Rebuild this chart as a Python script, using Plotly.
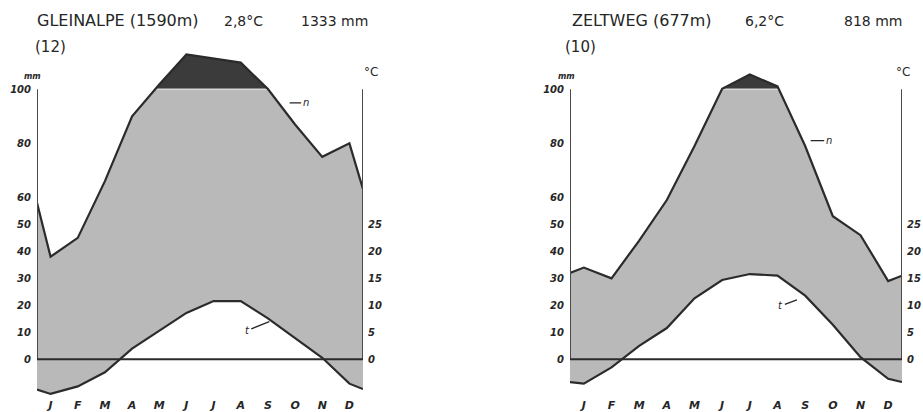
import plotly.graph_objects as go

# ---------------- data ----------------
months = ["J", "F", "M", "A", "M", "J", "J", "A", "S", "O", "N", "D"]

# Gleinalpe (1590 m), mean 2,8 °C, 1333 mm, (12) years
gl_precip = [38, 45, 66, 90, 118, 229, 214, 199, 101, 87, 75, 80]      # mm
gl_precip_edges = [58, 63]                                             # curve ends at frame
gl_temp = [-6.4, -5.0, -2.4, 2.0, 5.3, 8.6, 10.8, 10.8, 7.6, 4.0, 0.3, -4.5]  # °C
gl_temp_edges = [-5.6, -5.5]

# Zeltweg (677 m), mean 6,2 °C, 818 mm, (10) years
ze_precip = [34, 30, 44, 59, 79, 102, 155, 111, 79, 53, 46, 29]
ze_precip_edges = [32, 31]
ze_temp = [-4.5, -1.5, 2.5, 5.8, 11.3, 14.7, 15.8, 15.5, 11.8, 6.4, 0.4, -3.6]
ze_temp_edges = [-4.2, -4.2]

mm_ticks = [0, 10, 20, 30, 40, 50, 60, 80, 100]
c_ticks = [0, 5, 10, 15, 20, 25]

# ---------------- helpers ----------------
FW, FH = 923, 412
GRAY = "#b9b9b9"
DARK = "#3b3b3b"
LINE = "#2b2b2b"
TXT = "#262626"
FONT = "DejaVu Sans"
PXU = 2.72                   # pixels per mm unit
Y0PX = 362                   # pixel row of the 0 line
BOTPX = 400                  # bottom of plotting area
YMIN = -(BOTPX - Y0PX) / PXU
YMAX = Y0PX / PXU


def fx(x):
    return x / FW


def fy(y):
    return 1 - y / FH


def wl(p):
    """Walter-Lieth precipitation scale: above 100 mm reduced to 1/10."""
    return p if p <= 100 else 100 + (p - 100) / 10.0


def positions():
    return [0.0] + [i + 0.5 for i in range(12)] + [12.0]


def with_crossings(xs, ys, level=100.0):
    out = []
    for i in range(len(xs)):
        if i > 0:
            y0, y1 = ys[i - 1], ys[i]
            if (y0 - level) * (y1 - level) < 0:
                t = (level - y0) / (y1 - y0)
                out.append((xs[i - 1] + t * (xs[i] - xs[i - 1]), level))
        out.append((xs[i], ys[i]))
    return out


fig = go.Figure()


def add_diagram(precip, pedges, temp, tedges, xa, ya):
    xs = positions()
    p = [wl(v) for v in [pedges[0]] + precip + [pedges[1]]]
    t = [2 * v for v in [tedges[0]] + temp + [tedges[1]]]
    pts = with_crossings(xs, p)
    # humid (gray) area between temperature and precipitation (capped at 100)
    gx = [q[0] for q in pts] + xs[::-1]
    gy = [min(q[1], 100) for q in pts] + t[::-1]
    fig.add_trace(go.Scatter(x=gx, y=gy, fill="toself", fillcolor=GRAY,
                             line=dict(width=0), mode="lines", xaxis=xa, yaxis=ya,
                             showlegend=False, hoverinfo="skip"))
    # very humid part above 100 mm (dark)
    above = [q for q in pts if q[1] >= 100]
    fig.add_trace(go.Scatter(x=[q[0] for q in above], y=[q[1] for q in above],
                             fill="toself", fillcolor=DARK, line=dict(width=0),
                             mode="lines", xaxis=xa, yaxis=ya,
                             showlegend=False, hoverinfo="skip"))
    fig.add_trace(go.Scatter(x=[above[0][0], above[-1][0]], y=[100, 100], mode="lines",
                             line=dict(color="#d8d8d8", width=1.5), xaxis=xa, yaxis=ya,
                             showlegend=False, hoverinfo="skip"))
    # curves
    fig.add_trace(go.Scatter(x=xs, y=p, mode="lines", line=dict(color=LINE, width=2.2),
                             xaxis=xa, yaxis=ya, showlegend=False, hoverinfo="skip"))
    fig.add_trace(go.Scatter(x=xs, y=t, mode="lines", line=dict(color=LINE, width=2.2),
                             xaxis=xa, yaxis=ya, showlegend=False, hoverinfo="skip"))


add_diagram(gl_precip, gl_precip_edges, gl_temp, gl_temp_edges, "x", "y")
add_diagram(ze_precip, ze_precip_edges, ze_temp, ze_temp_edges, "x2", "y2")
fig.add_trace(go.Scatter(x=[None], y=[None], xaxis="x", yaxis="y3", showlegend=False))
fig.add_trace(go.Scatter(x=[None], y=[None], xaxis="x2", yaxis="y4", showlegend=False))

tickfont = dict(family=FONT, size=10, color=TXT, weight="bold", style="italic")
ydom = [(FH - BOTPX) / FH, 1]

xcommon = dict(range=[0, 12], tickvals=[i + 0.5 for i in range(12)], ticktext=months,
               showgrid=False, zeroline=False, showline=False, ticks="",
               tickfont=dict(family=FONT, size=11, color=TXT, style="italic",
                             weight="bold"),
               ticklabelstandoff=0, fixedrange=True)
ymm = dict(range=[YMIN, YMAX], domain=ydom, tickvals=mm_ticks, showgrid=False,
           zeroline=False, showline=False, ticks="", tickfont=tickfont,
           ticklabelstandoff=5, fixedrange=True)
yc = dict(range=[YMIN / 2, YMAX / 2], domain=ydom, tickvals=c_ticks, showgrid=False,
          zeroline=False, showline=False, ticks="", tickfont=tickfont, side="right",
          ticklabelstandoff=4, fixedrange=True)

fig.update_layout(
    width=FW, height=FH, margin=dict(l=0, r=0, t=0, b=0),
    paper_bgcolor="white", plot_bgcolor="rgba(0,0,0,0)",
    xaxis=dict(domain=[fx(37), fx(363)], anchor="y", **xcommon),
    xaxis2=dict(domain=[fx(570), fx(902)], anchor="y2", **xcommon),
    yaxis=dict(anchor="x", **ymm),
    yaxis2=dict(anchor="x2", **ymm),
    yaxis3=dict(anchor="x", overlaying="y", **yc),
    yaxis4=dict(anchor="x2", overlaying="y2", **yc),
)

shapes = []
for xr, yr in [("x", "y"), ("x2", "y2")]:
    for xv in (0, 12):
        shapes.append(dict(type="line", xref=xr, yref=yr, x0=xv, x1=xv, y0=0, y1=100,
                           line=dict(color="#4a4a4a", width=2), layer="above"))
    shapes.append(dict(type="line", xref=xr, yref=yr, x0=0, x1=12, y0=0, y1=0,
                       line=dict(color=LINE, width=2), layer="above"))
fig.update_layout(shapes=shapes)


def ann(text, x, y, size=14, xanchor="left", **kw):
    fig.add_annotation(text=text, x=fx(x), y=fy(y), xref="paper", yref="paper",
                       xanchor=xanchor, yanchor="middle", showarrow=False,
                       font=dict(family=FONT, size=size, color=TXT, **kw))


# titles
ann("GLEINALPE (1590m)", 35, 21, size=16)
ann("2,8°C", 222, 21)
ann("1333 mm", 299, 21)
ann("(12)", 33, 47, size=15)
ann("ZELTWEG (677m)", 570, 21, size=16)
ann("6,2°C", 743, 21)
ann("818 mm", 842, 21)
ann("(10)", 563, 47, size=15)
# unit labels
for x in (22, 556):
    ann("mm", x, 77, size=8, weight="bold", style="italic")
for x in (362, 894):
    ann("°C", x, 73, size=12)


def pointer(text, xa, ya, xh, yh, ax, ay):
    fig.add_annotation(text=text, x=xh, y=yh, xref=xa, yref=ya, ax=ax, ay=ay,
                       showarrow=True, arrowhead=0, arrowwidth=1.3, arrowcolor=TXT,
                       font=dict(family=FONT, size=10, color=TXT, style="italic"))


# curve labels (n = precipitation, t = temperature)
pointer("n", "x", "y", 9.3, 95, 16, 0)
pointer("t", "x", "y", 8.55, 14, -22, 9)
pointer("n", "x2", "y2", 8.7, 81, 18, 0)
pointer("t", "x2", "y2", 8.2, 22, -16, 6)

fig.write_html("out.html",
               config={"displayModeBar": False},
               post_script="document.body.style.margin='0';"
                           "document.body.style.overflow='hidden';")
